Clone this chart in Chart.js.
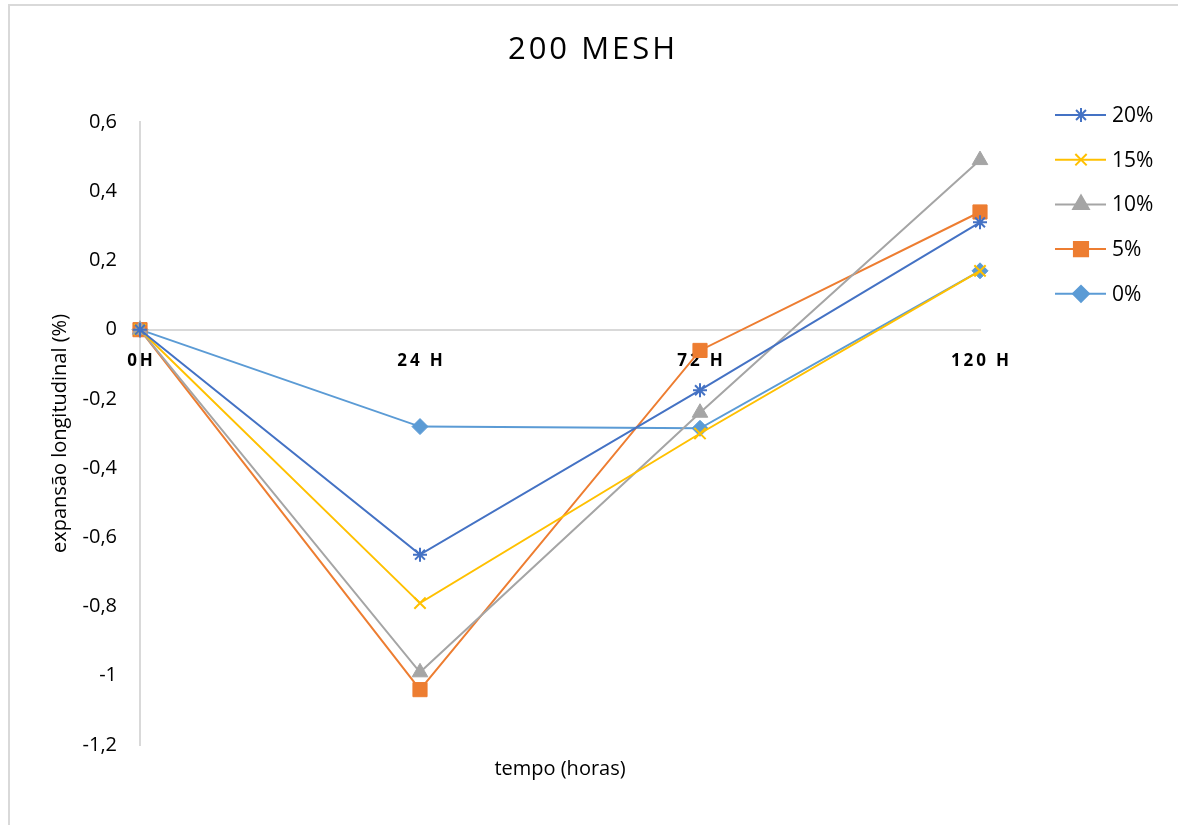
<!DOCTYPE html>
<html lang="pt">
<head>
  <meta charset="UTF-8">
  <title>200 MESH</title>
  <script src="https://cdn.jsdelivr.net/npm/chart.js"></script>
  <style>
    html, body { margin: 0; padding: 0; background: #fff; }
    #wrap { position: relative; width: 1178px; height: 825px; }
    #frame { position: absolute; left: 8px; top: 4px; right: -10px; bottom: -10px;
             border-top: 2px solid #d9d9d9; border-left: 2px solid #d9d9d9; pointer-events: none; }
  </style>
</head>
<body>
  <div id="wrap">
    <canvas id="meshChart" width="1178" height="825"></canvas>
    <div id="frame"></div>
  </div>

  <script>
    const chartTitle = '200 MESH';
    const xTitle = 'tempo (horas)';
    const yTitle = 'expansão longitudinal (%)';

    const categories = ['0H', '24 H', '72 H', '120 H'];

    const serie20 = [0, -0.65, -0.175, 0.31];
    const serie15 = [0, -0.79, -0.30, 0.17];
    const serie10 = [0, -0.99, -0.24, 0.49];
    const serie5 = [0, -1.04, -0.06, 0.34];
    const serie0 = [0, -0.28, -0.285, 0.17];

    const seriesNames = ['20%', '15%', '10%', '5%', '0%'];
    const FONT = "'Open Sans', 'Liberation Sans', sans-serif";

    function ds(label, data, color, style, radius, bw) {
      return {
        label: label,
        data: data,
        borderColor: color,
        backgroundColor: color,
        borderWidth: 2,
        pointStyle: style,
        pointRadius: radius,
        pointHoverRadius: radius,
        pointBackgroundColor: color,
        pointBorderColor: color,
        pointBorderWidth: bw,
        tension: 0,
        clip: false
      };
    }

    // titulo, titulo do eixo x e legenda desenhados a mao
    const textPlugin = {
      id: 'texts',
      afterDraw(chart) {
        const ctx = chart.ctx;
        const area = chart.chartArea;
        ctx.save();
        ctx.fillStyle = '#000';
        ctx.textAlign = 'center';
        ctx.textBaseline = 'middle';
        ctx.font = '31px ' + FONT;
        ctx.letterSpacing = '3px';
        ctx.fillText(chartTitle, 593, 50);
        ctx.letterSpacing = '0px';
        ctx.font = '20px ' + FONT;
        ctx.fillText(xTitle, (area.left + area.right) / 2, 769);

        const draw = Chart.helpers && Chart.helpers.drawPoint;
        chart.data.datasets.forEach((d, i) => {
          const y = 115 + i * 44.7;
          ctx.strokeStyle = d.borderColor;
          ctx.lineWidth = 2;
          ctx.beginPath();
          ctx.moveTo(1055, y);
          ctx.lineTo(1106, y);
          ctx.stroke();
          ctx.fillStyle = d.pointBackgroundColor;
          if (draw) {
            draw(ctx, { pointStyle: d.pointStyle, radius: d.pointRadius, rotation: 0, borderWidth: d.pointBorderWidth }, 1081, y);
          }
          ctx.fillStyle = '#000';
          ctx.textAlign = 'left';
          ctx.font = '21px ' + FONT;
          ctx.fillText(d.label, 1112, y + 1);
        });
        ctx.restore();
      }
    };

    const ctx = document.getElementById('meshChart').getContext('2d');
    new Chart(ctx, {
      type: 'line',
      data: {
        labels: categories,
        datasets: [
          ds(seriesNames[0], serie20, '#4472C4', 'star', 7, 2),
          ds(seriesNames[1], serie15, '#FFC000', 'crossRot', 8, 2),
          ds(seriesNames[2], serie10, '#A5A5A5', 'triangle', 9, 1),
          ds(seriesNames[3], serie5, '#ED7D31', 'rect', 10, 1),
          ds(seriesNames[4], serie0, '#5B9BD5', 'rectRot', 8, 1)
        ]
      },
      plugins: [textPlugin],
      options: {
        responsive: false,
        animation: false,
        layout: { padding: { left: 0, right: 198, top: 122, bottom: 80 } },
        plugins: {
          legend: { display: false },
          tooltip: { enabled: false },
          title: { display: false }
        },
        scales: {
          x: {
            position: { y: 0 },
            offset: false,
            grid: { display: false },
            border: { display: true, color: '#d9d9d9', width: 2 },
            ticks: {
              color: '#000',
              padding: 13,
              maxRotation: 0,
              autoSkip: false,
              font: { family: FONT, size: 17, weight: 'bold' },
              callback: function (v, i) {
                return categories[i].split('').join('\u2009');
              }
            }
          },
          y: {
            min: -1.2,
            max: 0.6,
            afterFit: function (scale) { scale.width = 140; },
            grid: { display: false },
            border: { display: true, color: '#d9d9d9', width: 2 },
            title: {
              display: true,
              text: yTitle,
              color: '#000',
              font: { family: FONT, size: 20 },
              padding: { top: 48, bottom: 0 }
            },
            ticks: {
              stepSize: 0.2,
              color: '#000',
              padding: 15,
              font: { family: FONT, size: 20 },
              callback: function (v) {
                return String(Math.round(v * 10) / 10).replace('.', ',');
              }
            }
          }
        }
      }
    });
  </script>
</body>
</html>
